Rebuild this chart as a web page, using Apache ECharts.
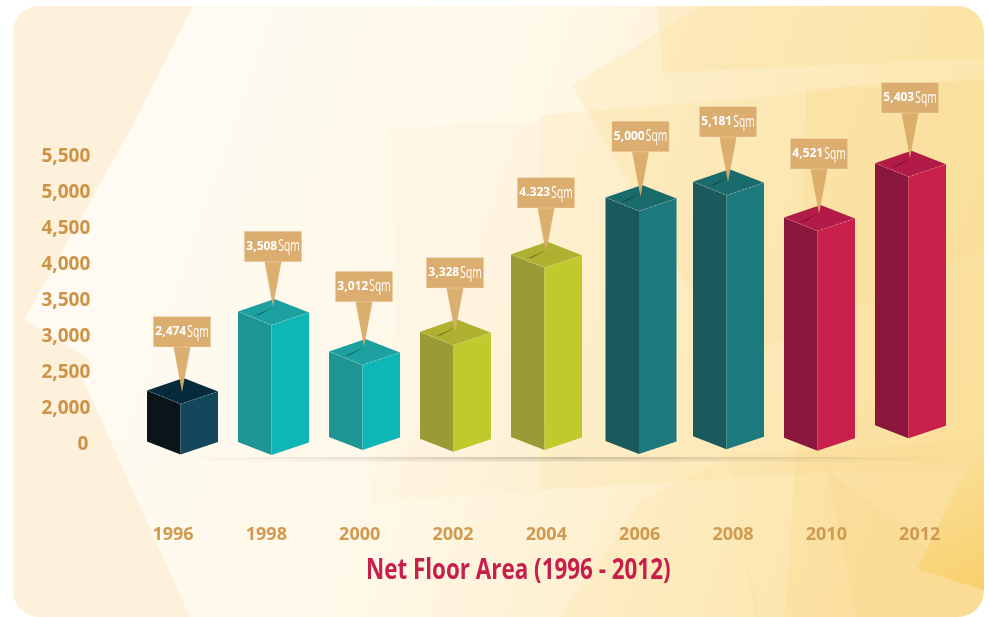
<!DOCTYPE html>
<html>
<head>
<meta charset="utf-8">
<style>
html, body { margin: 0; padding: 0; background: #fff; }
#chart { width: 989px; height: 617px; }
</style>
<script src="https://cdn.jsdelivr.net/npm/echarts@6/dist/echarts.min.js"></script>
</head>
<body>
<div id="chart"></div>
<script>
// 年份
const years = ["1996", "1998", "2000", "2002", "2004", "2006", "2008", "2010", "2012"];
// printed on the callouts, as in the picture (including the "4.323")
const areaLabels = ["2,474", "3,508", "3,012", "3,328", "4.323", "5,000", "5,181", "4,521", "5,403"];
// the artwork does not sit exactly on its values, so these are read off the axis
const barTops = [2403, 3500, 2944, 3218, 4296, 5083, 5301, 4806, 5560];
const barBases = [1340, 1333, 1403, 1379, 1403, 1347, 1413, 1393, 1565];
const pinTips = [2208, 3393, 2837, 3028, 4139, 4921, 5125, 4681, 5458];

// 颜色: [left, right, top]
const teal = ["#1c9594", "#0fb6b6", "#1ca0a0"];
const olive = ["#9a9a36", "#c0ca2c", "#b0b030"];
const pine = ["#1b5a5c", "#1c797e", "#1a6b6c"];
const wine = ["#8a163e", "#c91f4b", "#b21a47"];
const barColors = [["#0c1419", "#12475c", "#052b3d"], teal, teal, olive, olive, pine, pine, wine, wine];

const fontMain = '"Open Sans", sans-serif';

let chart = echarts.init(document.getElementById("chart"));

// 背景的半透明多边形
function poly(points, fill) {
	return { type: "polygon", silent: true, z: -5, shape: { points: points }, style: { fill: fill } };
}
function grad(x, y, x2, y2, stops) {
	return new echarts.graphic.LinearGradient(x, y, x2, y2, stops);
}
// white wedge that rounds off one corner of the card
function cornerMask(x, y, sx, sy) {
	const r = 26;
	const points = [[x, y]];
	for (let k = 0; k <= 10; k++) {
		const a = (k / 10) * Math.PI * 0.5;
		points.push([x + sx * (r - r * Math.sin(a)), y + sy * (r - r * Math.cos(a))]);
	}
	return { type: "polygon", silent: true, z: -3, shape: { points: points }, style: { fill: "#fff" } };
}

const card = { x: 13, y: 6, width: 971, height: 611, r: 26 };

const bgShapes = [
	{
		type: "rect",
		silent: true,
		z: -6,
		shape: card,
		style: {
			fill: grad(0, 0, 1, 0.55, [
				{ offset: 0, color: "#fffcf6" },
				{ offset: 0.5, color: "#fff8e9" },
				{ offset: 1, color: "#fde6ab" },
			]),
		},
	},
	poly([[13, 6], [193, 6], [130, 130], [24, 320], [90, 360], [83, 380], [190, 617], [13, 617]], "#fdf1dc"),
	poly([[390, 128], [541, 122], [541, 490], [370, 505], [397, 320]], "rgba(250,226,170,0.1)"),
	poly([[572, 85], [702, 6], [984, 6], [984, 250], [760, 350], [690, 290]], "rgba(252,224,150,0.25)"),
	poly([[657, 6], [984, 6], [984, 58], [663, 73]], "rgba(250,214,130,0.22)"),
	poly([[541, 115], [984, 79], [984, 463], [540, 490]], "rgba(250,218,140,0.2)"),
	poly([[806, 89], [984, 79], [984, 617], [785, 617], [795, 470]], "rgba(250,212,125,0.2)"),
	poly([[727, 455], [984, 440], [984, 617], [755, 617]], "rgba(250,214,130,0.16)"),
	poly([[827, 470], [984, 590], [984, 617], [857, 617]], "rgba(248,205,110,0.16)"),
	poly([[560, 617], [640, 500], [725, 460], [760, 617]], "rgba(250,220,150,0.18)"),
	poly([[917, 569], [984, 433], [984, 590]], grad(0, 0, 1, 1, [
		{ offset: 0, color: "#fbe3a4" },
		{ offset: 1, color: "#f8d06c" },
	])),
	// 圆角
	cornerMask(13, 6, 1, 1),
	cornerMask(984, 6, -1, 1),
	cornerMask(13, 617, 1, -1),
	cornerMask(984, 617, -1, -1),
	// 标题: no condensed font installed, so squeeze a bold one
	{
		type: "text",
		silent: true,
		z: 5,
		x: 366,
		y: 571,
		scaleX: 0.8,
		style: {
			text: "Net Floor Area (1996 - 2012)",
			fill: "#c81e4b",
			font: 'bold 28px "Open Sans", sans-serif',
			verticalAlign: "middle",
		},
	},
];
// 地面阴影
for (let i = 0; i < 5; i++) {
	bgShapes.push({
		type: "rect",
		silent: true,
		z: -4,
		shape: { x: 170, y: 457 + i, width: 790, height: 1 },
		style: {
			fill: grad(0, 0, 1, 0, [
				{ offset: 0, color: "rgba(120,110,90,0)" },
				{ offset: 0.5, color: "rgba(120,110,90," + (0.38 - i * 0.07) + ")" },
				{ offset: 1, color: "rgba(120,110,90,0)" },
			]),
		},
	});
}

function renderBar(params, api) {
	const i = params.dataIndex;
	const top = api.coord([i, api.value(1)]);
	const base = api.coord([i, api.value(2)]);
	const tip = api.coord([i, api.value(3)]);
	// 2006 stands a little right of the even spacing
	const xc = top[0] + (years[i] === "2006" ? 3.5 : 0);
	const t = top[1];
	const b = base[1];
	const c = barColors[i];
	const px = xc + 1.5;
	const boxTop = tip[1] - 75.5;
	const edge = { stroke: "rgba(255,255,255,0.3)", lineWidth: 0.8, lineDash: [2, 2], fill: null };
	return {
		type: "group",
		children: [
			{
				type: "polygon",
				shape: { points: [[xc - 33.5, t + 12.5], [xc, t + 26], [xc, b], [xc - 33.5, b - 13]] },
				style: { fill: c[0] },
			},
			{
				type: "polygon",
				shape: { points: [[xc, t + 26], [xc + 37.5, t + 13.5], [xc + 37.5, b - 12.5], [xc, b]] },
				style: { fill: c[1] },
			},
			{
				type: "polygon",
				shape: { points: [[xc - 33.5, t + 12.5], [xc + 3, t], [xc + 37.5, t + 13.5], [xc, t + 26]] },
				style: { fill: c[2] },
			},
			{
				type: "polyline",
				shape: { points: [[xc - 33.5, t + 12.5], [xc, t + 26], [xc + 37.5, t + 13.5]] },
				style: edge,
			},
			// 盒顶的缝
			{
				type: "polygon",
				shape: { points: [[xc + 2, t + 8], [xc - 18, t + 17], [xc - 12, t + 16]] },
				style: { fill: "rgba(0,0,0,0.3)" },
			},
			// 标注的尖
			{
				type: "polygon",
				shape: { points: [[px - 8.5, boxTop + 30], [px + 8.5, boxTop + 30], [px, tip[1]]] },
				style: { fill: "#d9ab67", opacity: 0.95 },
			},
			{
				type: "rect",
				shape: { x: px - 28.7, y: boxTop, width: 57.4, height: 30.6 },
				style: { fill: "#dbad6e", stroke: "rgba(255,240,215,0.5)", lineWidth: 0.6 },
			},
			{
				type: "text",
				x: px - 28.7 + 17.5,
				y: boxTop + 15,
				style: {
					text: areaLabels[i],
					fill: "#fff",
					font: 'bold 12px "Open Sans", sans-serif',
					align: "center",
					verticalAlign: "middle",
				},
			},
			{
				type: "text",
				x: px - 28.7 + 34,
				y: boxTop + 15.5,
				scaleX: 0.64,
				style: {
					text: "Sqm",
					fill: "#fff",
					font: '16px "Open Sans", sans-serif',
					align: "left",
					verticalAlign: "middle",
				},
			},
		],
	};
}

const barRows = years.map((y, i) => [i, barTops[i], barBases[i], pinTips[i]]);

const option = {
	animation: false,
	backgroundColor: "#fff",
	graphic: { elements: bgShapes },
	grid: [
		// 刻度和年份 (2px lower: Open Sans sits high in its line box)
		{ left: 126.35, width: 840, top: 157, height: 288 },
		// bars sit on a slightly tighter spacing than the year labels
		{ left: 135, width: 819, top: 155, height: 288 },
	],
	xAxis: [
		{
			type: "category",
			data: years,
			gridIndex: 0,
			axisTick: { show: false },
			axisLine: { show: false },
			axisLabel: {
				margin: 81,
				color: "#d09a50",
				fontFamily: fontMain,
				fontWeight: "bold",
				fontSize: 18,
			},
		},
		{ type: "category", data: years, gridIndex: 1, show: false },
	],
	yAxis: [
		{
			type: "value",
			gridIndex: 0,
			// the scale jumps from 0 straight to 2,000: the bottom tick stands for 0
			min: 1500,
			max: 5500,
			interval: 500,
			axisTick: { show: false },
			axisLine: { show: false },
			splitLine: { show: false },
			axisLabel: {
				margin: 36,
				color: "#cf9347",
				fontFamily: fontMain,
				fontWeight: "bold",
				fontSize: 19,
				formatter: (v) => (v === 1500 ? "0\u200a" : v.toLocaleString("en-US")),
			},
		},
		{ type: "value", gridIndex: 1, min: 1500, max: 5500, interval: 500, show: false },
	],
	series: [
		{
			type: "custom",
			xAxisIndex: 1,
			yAxisIndex: 1,
			renderItem: renderBar,
			encode: { x: 0, y: 1 },
			clip: false,
			data: barRows,
		},
	],
};
chart.setOption(option);
</script>
</body>
</html>
